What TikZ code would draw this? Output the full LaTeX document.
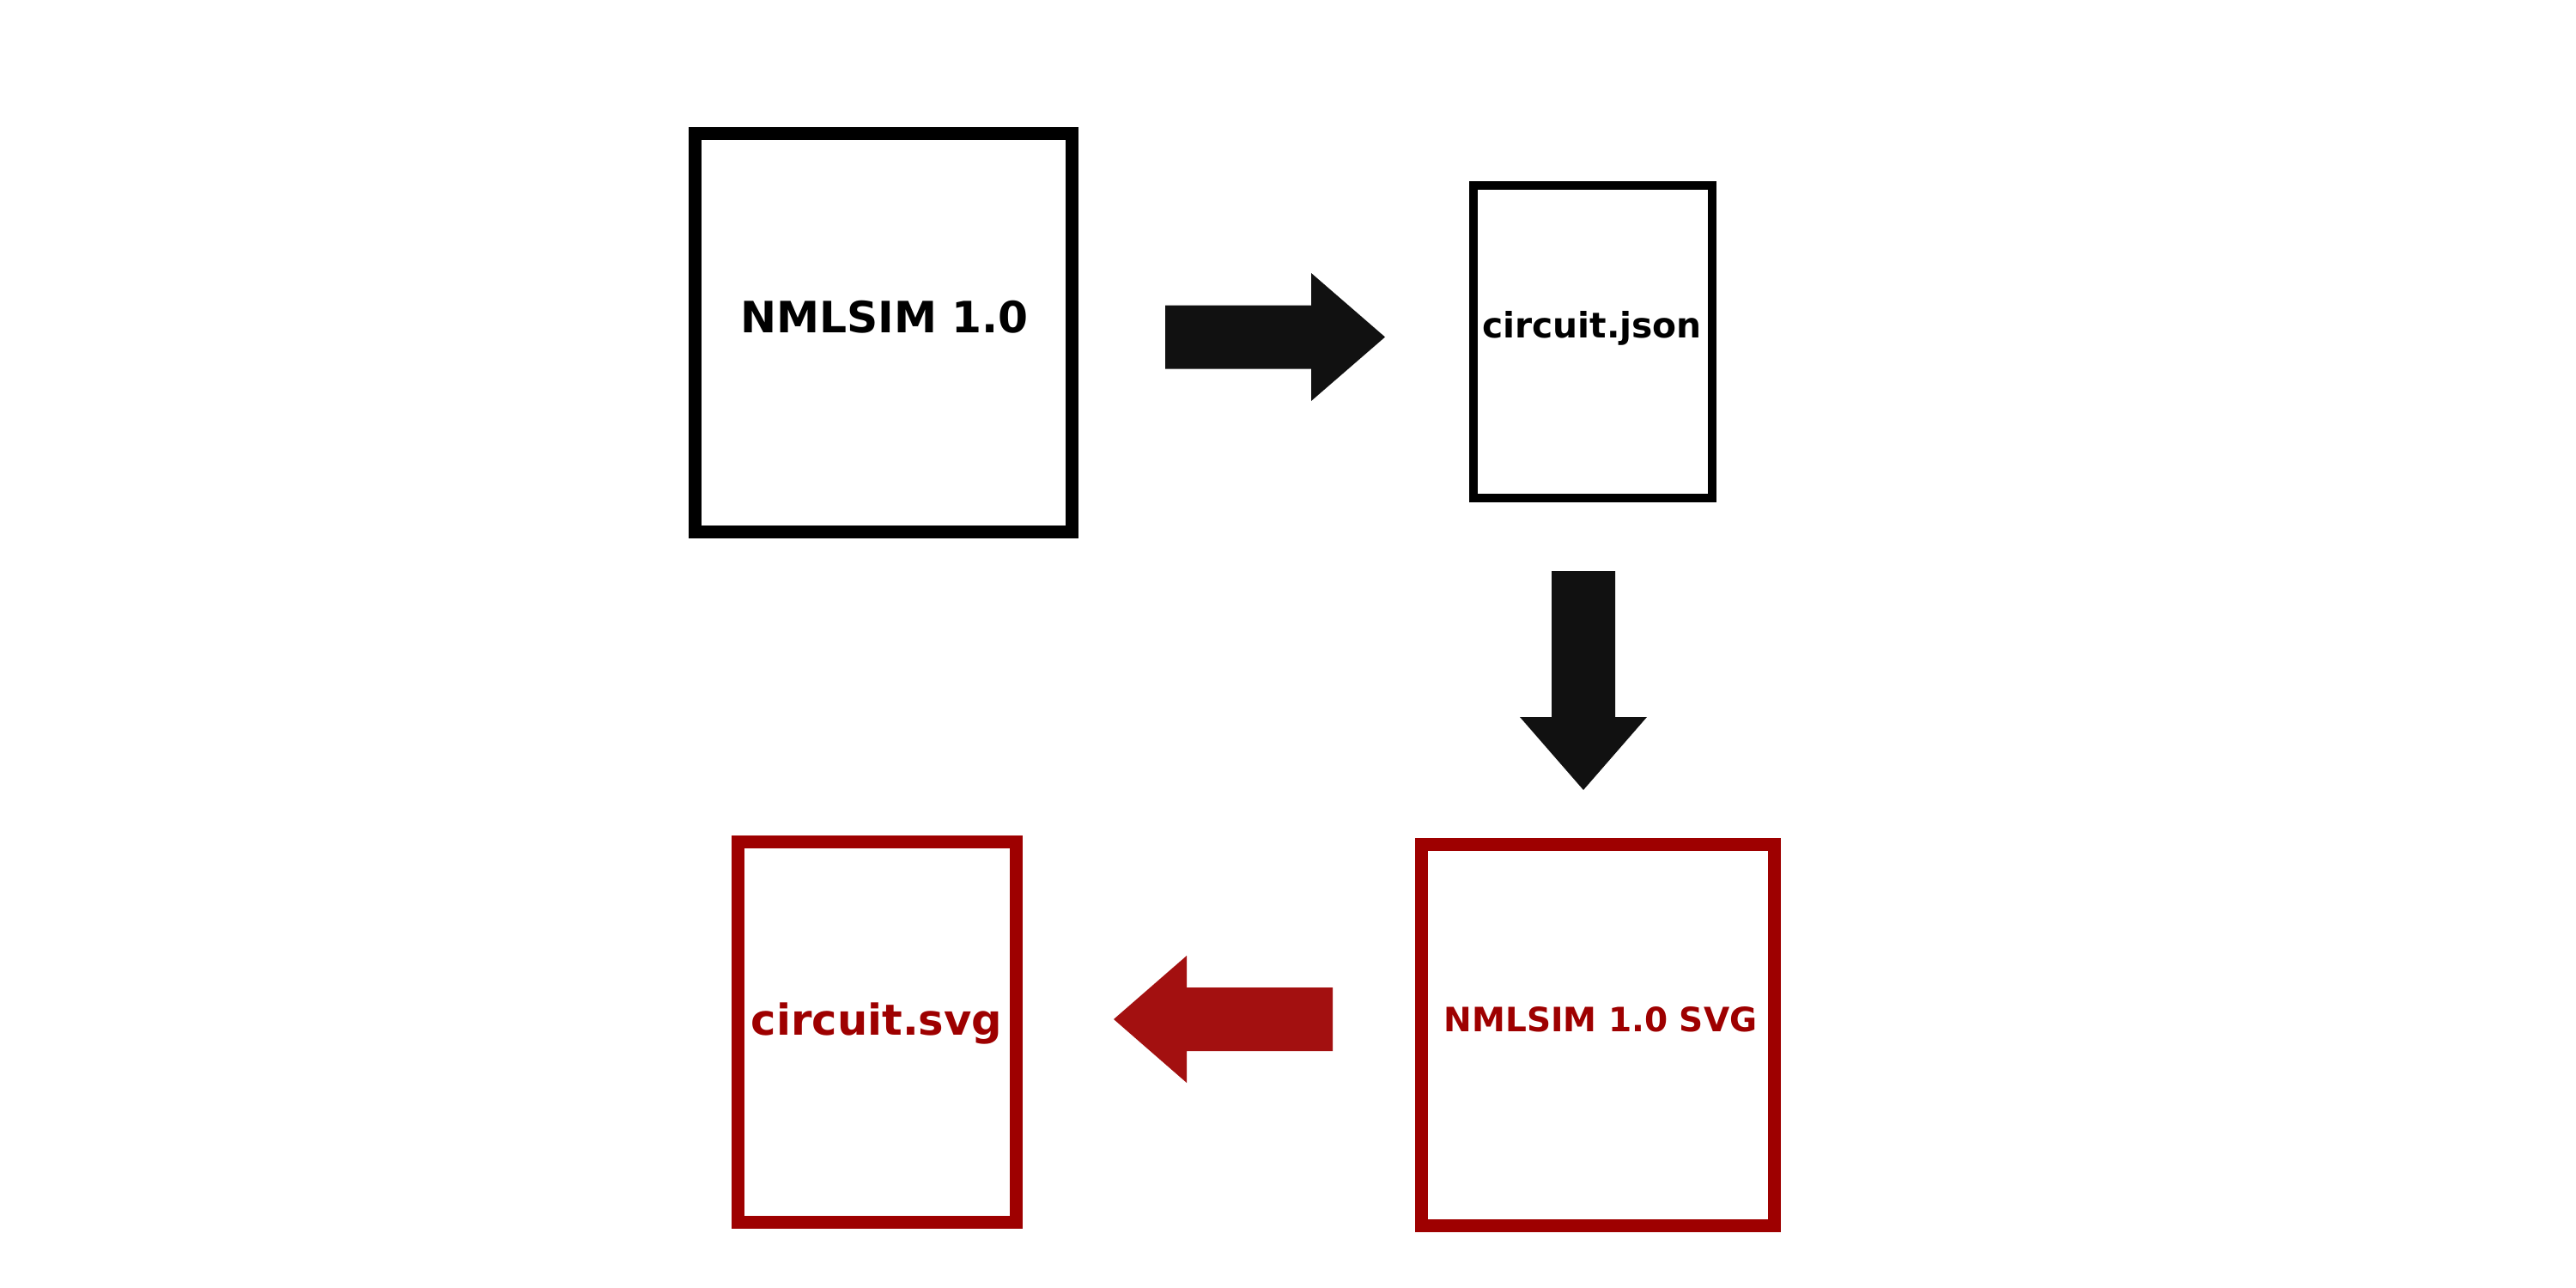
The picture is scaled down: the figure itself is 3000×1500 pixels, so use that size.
\documentclass[tikz,border=0pt]{standalone}
\usepackage{fontspec}
\setmainfont{DejaVu Sans}
\definecolor{boxred}{HTML}{9E0000}
\definecolor{arrred}{HTML}{A31010}
\definecolor{arrblack}{HTML}{111111}
\tikzset{
  filebox/.style={draw, rectangle, inner sep=0pt, fill=white},
  lbl/.style={anchor=base, inner sep=0pt, font=\bfseries},
  blockarrow/.style={draw=none}
}
\begin{document}
\begin{tikzpicture}[x=0.01cm, y=-0.01cm]
\useasboundingbox[fill=white] (0,0) rectangle (3000,1500);
% boxes
\node[filebox, line width=4.27pt, minimum width=4.39cm, minimum height=4.64cm] (nml) at (1029,387.5) {};
\node[filebox, line width=2.85pt, minimum width=2.78cm, minimum height=3.64cm] (json) at (1855,398) {};
\node[filebox, draw=boxred, line width=4.27pt, minimum width=4.11cm, minimum height=4.44cm] (nmlsvg) at (1861,1205.5) {};
\node[filebox, draw=boxred, line width=4.27pt, minimum width=3.24cm, minimum height=4.43cm] (svg) at (1021.5,1202) {};
% labels
\node[lbl, font=\bfseries\fontsize{14.3pt}{16pt}\selectfont] (t1) at (1030,387) {NMLSIM 1.0};
\node[lbl, font=\bfseries\fontsize{11.6pt}{14pt}\selectfont] (t2) at (1854,393) {circuit.json};
\node[lbl, text=boxred, font=\bfseries\fontsize{11.1pt}{14pt}\selectfont] (t3) at (1864,1201) {NMLSIM 1.0 SVG};
\node[lbl, text=boxred, font=\bfseries\fontsize{14.1pt}{16pt}\selectfont] (t4) at (1021,1205) {circuit.svg};
% block arrows
\fill[arrblack] (1357,355.5) -- (1527,355.5) -- (1527,318) -- (1613,392.5) -- (1527,467) -- (1527,429.5) -- (1357,429.5) -- cycle;
\fill[arrblack] (1807,665) -- (1881,665) -- (1881,835) -- (1918,835) -- (1844,920) -- (1770,835) -- (1807,835) -- cycle;
\fill[arrred] (1552,1150) -- (1382,1150) -- (1382,1113) -- (1297,1187) -- (1382,1261) -- (1382,1224) -- (1552,1224) -- cycle;
\end{tikzpicture}
\end{document}
